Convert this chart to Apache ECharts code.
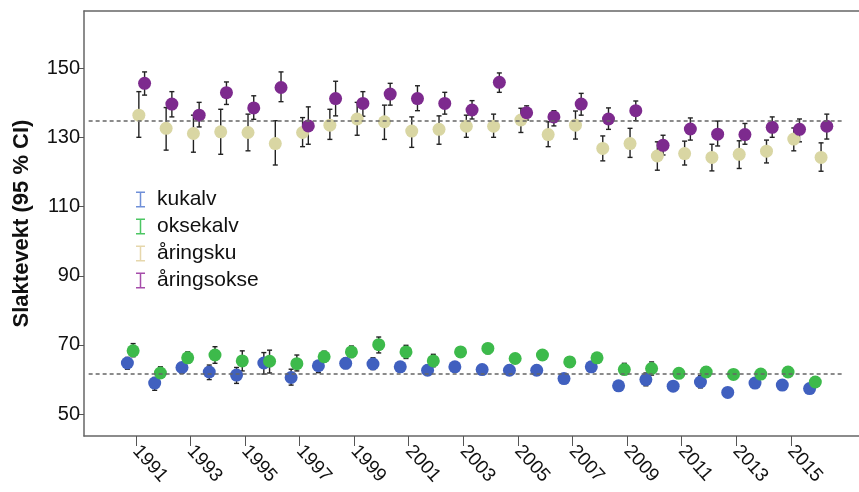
<!DOCTYPE html>
<html><head><meta charset="utf-8">
<script src="https://cdn.jsdelivr.net/npm/echarts@6/dist/echarts.min.js"></script>
<style>html,body{margin:0;padding:0;background:#fff}#c{width:859px;height:492px}</style>
</head><body><div id="c"></div>
<script>
const years = [1991,1992,1993,1994,1995,1996,1997,1998,1999,2000,2001,2002,2003,2004,2005,2006,2007,2008,2009,2010,2011,2012,2013,2014,2015,2016];
const xTicks = [1991,1993,1995,1997,1999,2001,2003,2005,2007,2009,2011,2013,2015];
const yTicks = [50,70,90,110,130,150];
const seriesNames = ['kukalv','oksekalv','åringsku','åringsokse'];
const refLines = [134.7, 61.8];

const kukalvMean = [64.8,59.0,63.5,62.2,61.3,64.8,60.6,64.0,64.7,64.5,63.7,62.7,63.7,62.9,62.7,62.7,60.3,63.7,58.2,60.0,58.1,59.3,56.3,59.0,58.4,57.4];
const kukalvLow  = [63.0,56.9,61.8,60.0,58.9,61.6,58.4,62.0,63.2,62.9,62.3,61.3,62.3,61.5,61.3,61.3,58.9,62.3,56.9,58.2,56.8,57.6,55.0,57.7,57.1,56.1];
const kukalvHigh = [66.4,60.6,64.8,64.2,63.5,67.8,63.0,65.1,66.2,66.3,65.1,64.1,65.1,64.3,64.1,64.1,61.7,65.1,59.5,61.9,59.4,61.1,57.6,60.3,59.7,58.7];

const oksekalvMean = [68.3,61.9,66.3,67.1,65.4,65.3,64.6,66.6,68.0,70.1,68.0,65.4,68.0,69.0,66.1,67.1,65.1,66.3,62.9,63.2,61.8,62.2,61.5,61.6,62.2,59.3];
const oksekalvLow  = [66.6,60.6,64.7,64.7,62.5,61.9,62.5,65.1,66.4,67.7,66.1,63.7,66.6,67.5,64.8,65.7,63.7,64.9,61.6,61.3,60.5,60.8,60.2,60.3,60.9,58.0];
const oksekalvHigh = [70.4,63.7,68.0,69.5,68.3,68.5,67.1,68.2,69.7,72.3,69.9,67.3,69.5,70.4,67.4,68.5,66.5,67.7,64.7,65.1,63.1,63.7,62.8,62.9,63.5,60.8];

const aringskuMean = [136.4,132.6,131.1,131.6,131.4,128.2,131.4,133.5,135.3,134.5,131.8,132.3,133.2,133.2,135.0,130.8,133.5,126.8,128.2,124.6,125.3,124.2,125.1,126.0,129.5,124.2];
const aringskuLow  = [130.0,126.3,125.7,125.1,126.1,122.0,127.3,129.4,130.6,129.4,127.1,128.0,130.0,130.0,131.4,127.3,129.5,123.2,124.2,120.5,122.0,120.3,121.0,122.6,126.1,120.2];
const aringskuHigh = [143.2,138.6,136.4,138.1,136.7,134.8,135.7,138.1,140.1,139.3,135.9,136.2,136.4,136.7,138.4,134.5,137.6,130.4,132.6,128.7,128.9,128.0,129.0,129.2,132.7,128.4];

const aringsokseMean = [145.6,139.6,136.4,142.9,138.5,144.4,133.3,141.2,139.8,142.5,141.2,139.8,137.9,145.9,137.1,135.9,139.6,135.3,137.7,127.7,132.4,130.9,130.8,132.9,132.3,133.2];
const aringsokseLow  = [142.2,135.9,133.0,139.5,135.2,140.3,128.0,136.2,136.1,139.3,137.7,136.7,135.3,143.0,135.0,133.3,136.4,132.3,134.8,124.9,129.2,127.5,128.0,130.0,128.7,129.5];
const aringsokseHigh = [148.9,143.2,140.1,146.0,142.0,148.9,138.8,146.2,143.2,145.6,144.9,143.0,140.6,148.6,139.1,137.7,142.7,138.5,140.5,130.6,135.6,134.7,134.0,135.9,135.3,136.7];

const means = [kukalvMean, oksekalvMean, aringskuMean, aringsokseMean];
const lows = [kukalvLow, oksekalvLow, aringskuLow, aringsokseLow];
const highs = [kukalvHigh, oksekalvHigh, aringskuHigh, aringsokseHigh];

const pointColors = ['#4060bf','#3dba4b','#d9d6a3','#7d2a8e'];
const legendColors = ['#6f8fd8','#4cc663','#e6d7ac','#a64daa'];
const dodge = [-0.31,-0.1,0.11,0.32];
const xMin = 1989.1, xMax = 2017.5;

const chart = echarts.init(document.getElementById('c'));
const series = [];
seriesNames.forEach((name, s) => {
  series.push({
    name: name + '_ci', type: 'custom', z: 2, silent: true,
    renderItem: function (params, api) {
      const x = api.value(0);
      const p1 = api.coord([x, api.value(1)]);
      const p2 = api.coord([x, api.value(2)]);
      const w = 2.5;
      const st = {stroke: '#222', lineWidth: 1.4};
      return {type: 'group', children: [
        {type: 'line', shape: {x1: p1[0], y1: p1[1], x2: p2[0], y2: p2[1]}, style: st},
        {type: 'line', shape: {x1: p1[0]-w, y1: p1[1], x2: p1[0]+w, y2: p1[1]}, style: st},
        {type: 'line', shape: {x1: p2[0]-w, y1: p2[1], x2: p2[0]+w, y2: p2[1]}, style: st}
      ]};
    },
    encode: {x: 0, y: [1, 2]},
    data: years.map((y, i) => [y + dodge[s], lows[s][i], highs[s][i]])
  });
});
seriesNames.forEach((name, s) => {
  const ser = {
    name: name, type: 'scatter', z: 3, symbolSize: 13,
    itemStyle: {color: pointColors[s], opacity: 1},
    data: years.map((y, i) => [y + dodge[s], means[s][i]])
  };
  if (s === 0) {
    ser.markLine = {
      silent: true, symbol: 'none', label: {show: false},
      lineStyle: {color: '#666', type: [4, 3], width: 1.5},
      data: refLines.map(v => [{coord: [1989.27, v]}, {coord: [2016.92, v]}])
    };
  }
  series.push(ser);
});

const iconPath = 'path://M0,0H9V1.5H5.25V14.5H9V16H0V14.5H3.75V1.5H0Z';
chart.setOption({
  animation: false,
  textStyle: {fontFamily: 'Liberation Sans, Arial, sans-serif'},
  grid: {left: 84, right: 0, top: 11, bottom: 56},
  legend: {
    orient: 'vertical', left: 131, top: 184, itemWidth: 9, itemHeight: 16, itemGap: 6,
    textStyle: {fontSize: 21, color: '#111', padding: [0, 0, 0, 7]},
    selectedMode: false,
    data: seriesNames.map((n, s) => ({name: n, icon: iconPath, itemStyle: {color: legendColors[s]}}))
  },
  xAxis: [{
    type: 'value', min: xMin, max: xMax, position: 'bottom',
    axisLine: {show: true, lineStyle: {color: '#666', width: 1.5}},
    axisTick: {show: true, customValues: xTicks, length: 10, lineStyle: {color: '#555', width: 1}},
    axisLabel: {customValues: xTicks, rotate: -48, fontSize: 19, color: '#111', margin: 12,
      formatter: v => String(v)},
    splitLine: {show: false}
  }, {
    type: 'value', min: xMin, max: xMax, position: 'top',
    axisLine: {show: true, onZero: false, lineStyle: {color: '#666', width: 1.5}},
    axisTick: {show: false}, axisLabel: {show: false}, splitLine: {show: false}
  }],
  yAxis: {
    type: 'value', min: 43.7, max: 166.5,
    name: 'Slaktevekt (95 % CI)', nameLocation: 'middle', nameGap: 51,
    nameTextStyle: {fontSize: 22, fontWeight: 'bold', color: '#111'},
    axisLine: {show: true, lineStyle: {color: '#666', width: 1.5}},
    axisTick: {show: true, customValues: yTicks, length: 5, lineStyle: {color: '#555'}},
    axisLabel: {customValues: yTicks, fontSize: 20, color: '#111', margin: 4},
    splitLine: {show: false}
  },
  series: series
});
</script></body></html>
